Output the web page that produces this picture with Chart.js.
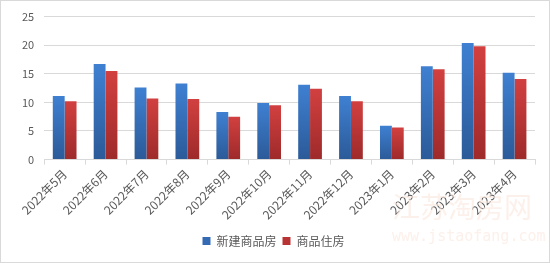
<!DOCTYPE html>
<html><head><meta charset="utf-8">
<script src="https://cdn.jsdelivr.net/npm/chart.js@4"></script>
<style>
html,body{margin:0;padding:0;background:#fff;}
#wrap{width:550px;height:263px;position:relative;}
</style></head>
<body><div id="wrap"><canvas id="c" width="550" height="263"></canvas></div>
<script>
const categories = ["2022年5月","2022年6月","2022年7月","2022年8月","2022年9月","2022年10月","2022年11月","2022年12月","2023年1月","2023年2月","2023年3月","2023年4月"];
const newHomes = [11.1,16.7,12.6,13.3,8.3,9.9,13.1,11.1,5.9,16.3,20.4,15.2];
const residential = [10.2,15.5,10.7,10.6,7.5,9.5,12.4,10.2,5.6,15.8,19.8,14.1];
const yTicks = [0,5,10,15,20,25];
const watermarkTitle = "江苏淘房网";
const watermarkUrl = "www.jstaofang.com";

function grad(top, bottom, flat){
  return function(ctx){
    const chart = ctx.chart;
    const ys = chart.scales && chart.scales.y;
    if(!ys || ctx.raw === undefined || !isFinite(ys.getPixelForValue(0))) return flat;
    const y0 = ys.getPixelForValue(ctx.raw);
    const y1 = ys.getPixelForValue(0);
    if(!isFinite(y0) || y0===y1) return flat;
    const g = chart.ctx.createLinearGradient(0, y0, 0, y1);
    g.addColorStop(0, top);
    g.addColorStop(1, bottom);
    return g;
  };
}

const borderPlugin = {
  id:'outerBorder',
  afterDraw(chart){
    const c = chart.ctx;
    c.save();
    c.fillStyle = 'rgba(250,230,220,0.6)';
    c.textAlign = 'left';
    c.textBaseline = 'top';
    c.font = '28px "Noto Sans CJK SC", sans-serif';
    c.fillText(watermarkTitle, 392, 193);
    c.font = '15px "DejaVu Sans Mono", monospace';
    c.fillText(watermarkUrl, 392, 230);
    c.strokeStyle = '#d9d9d9';
    c.lineWidth = 1;
    c.strokeRect(0.5,0.5,chart.width-1,chart.height-1);
    c.restore();
  }
};

new Chart(document.getElementById('c'), {
  type:'bar',
  data:{
    labels:categories,
    datasets:[
      {label:'新建商品房', data:newHomes, backgroundColor:grad('#3f80d2','#2b5a98','#3469b4'), borderWidth:0, barPercentage:1.0, categoryPercentage:0.58},
      {label:'商品住房', data:residential, backgroundColor:grad('#d24040','#9e2a2a','#b83434'), borderWidth:0, barPercentage:1.0, categoryPercentage:0.58}
    ]
  },
  options:{
    responsive:false,
    animation:false,
    layout:{padding:{left:12,right:15,top:5,bottom:6}},
    plugins:{
      legend:{
        position:'bottom',
        labels:{
          boxWidth:8, boxHeight:8, padding:6, color:'#595959',
          font:{family:'"Noto Sans CJK SC", sans-serif', size:12},
          generateLabels(chart){
            const cols=['#3469b4','#b83434'];
            return chart.data.datasets.map((d,i)=>({text:d.label, fillStyle:cols[i], strokeStyle:cols[i], lineWidth:0, datasetIndex:i, fontColor:'#595959'}));
          }
        }
      },
      tooltip:{enabled:false}
    },
    scales:{
      x:{
        afterFit(axis){ axis.height += 5; },
        grid:{display:true, offset:true, drawOnChartArea:false, drawTicks:true, tickLength:5, color:'#d9d9d9'},
        border:{display:true, color:'#d9d9d9'},
        ticks:{color:'#595959', maxRotation:45, minRotation:45, font:{family:'"Noto Sans CJK SC", sans-serif', size:12}, padding:2}
      },
      y:{
        min:0, max:25,
        afterBuildTicks(axis){ axis.ticks = yTicks.map(v=>({value:v})); },
        grid:{color:'#d9d9d9', drawTicks:false},
        border:{display:false},
        ticks:{color:'#595959', padding:10, font:{family:'"Noto Sans CJK SC", sans-serif', size:11}}
      }
    }
  },
  plugins:[borderPlugin]
});
</script></body></html>
